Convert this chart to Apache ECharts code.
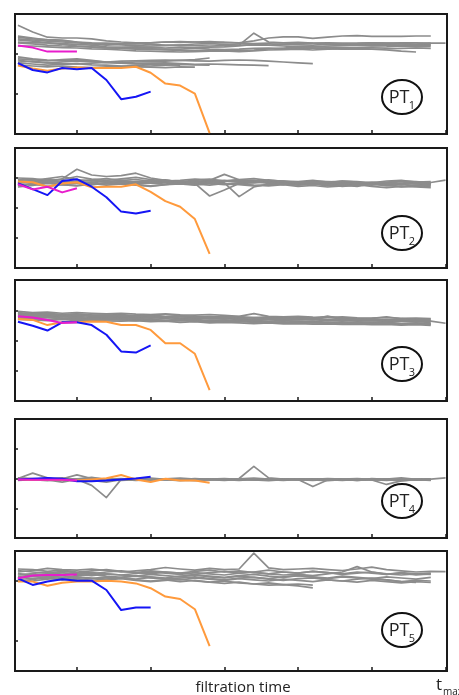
<!DOCTYPE html>
<html>
<head>
<meta charset="utf-8">
<script src="https://cdn.jsdelivr.net/npm/echarts@6/dist/echarts.min.js"></script>
<style>
  html, body { margin: 0; padding: 0; background: #fff; }
  #chart { width: 459px; height: 695px; }
</style>
</head>
<body>
<div id="chart"></div>
<script>
// time points (tick unit = 1, t_max = 6)
var times = [0.2,0.4,0.6,0.8,1.0,1.2,1.4,1.6,1.8,2.0,2.2,2.4,2.6,2.8,3.0,3.2,3.4,3.6,3.8,4.0,4.2,4.4,4.6,4.8,5.0,5.2,5.4,5.6,5.8,6.0];
var xTicks = [1, 2, 3, 4, 5, 6];
var panelNames = ["1", "2", "3", "4", "5"];
var yMax = [3, 4, 4, 4, 4];
var yTicks = [[1, 2], [1, 2, 3], [1, 2, 3], [1, 2, 3], [1, 3]];

// PT1
var gray1 = [
  [2.72,2.55,2.42,2.40,2.40,2.38,2.33,2.30,2.28,2.28,2.30,2.29,2.30,2.31,2.29,2.28,2.33,2.40,2.43,2.43,2.39,2.42,2.45,2.46,2.44,2.44,2.44,2.45,2.45],
  [2.42,2.38,2.36,2.35,2.30,2.25,2.22,2.25,2.26,2.24,2.22,2.22,2.25,2.26,2.24,2.22,2.52,2.30,2.28,2.26,2.27,2.28,2.27,2.27,2.28,2.27,2.28,2.28,2.27,2.27],
  [2.38,2.35,2.32,2.30,2.28,2.26,2.24,2.23,2.21,2.20,2.21,2.22,2.21,2.20,2.21,2.22,2.23,2.22,2.24,2.23,2.22,2.24,2.23,2.23,2.24,2.23,2.22,2.23,2.24],
  [2.30,2.28,2.28,2.26,2.24,2.22,2.18,2.17,2.18,2.17,2.15,2.17,2.16,2.17,2.18,2.20,2.24,2.22,2.20,2.18,2.18,2.17,2.16,2.16,2.17,2.18,2.20,2.18,2.19],
  [2.35,2.32,2.28,2.24,2.20,2.17,2.15,2.14,2.12,2.13,2.12,2.12,2.14,2.12,2.11,2.12,2.14,2.15,2.13,2.14,2.15,2.14,2.12,2.13,2.12,2.10,2.07,2.05],
  [2.28,2.25,2.22,2.20,2.19,2.18,2.16,2.15,2.14,2.12,2.10,2.09,2.08,2.09,2.10,2.09,2.10,2.13,2.15,2.17,2.18,2.20,2.21,2.22,2.21,2.22,2.22,2.23,2.22],
  [2.45,2.40,2.35,2.33,2.30,2.28,2.27,2.26,2.26,2.28,2.30,2.31,2.30,2.28,2.29,2.27,2.26,2.27,2.28,2.29,2.27,2.26,2.25,2.26,2.28,2.27,2.26,2.25,2.27],
  [2.20,2.20,2.18,2.16,2.15,2.13,2.12,2.10,2.08,2.07,2.06,2.05,2.06,2.07,2.08,2.06,2.08,2.10,2.11,2.12,2.10,2.12,2.13,2.14,2.12,2.13,2.14,2.15,2.14],
  [1.93,1.88,1.85,1.83,1.84,1.82,1.80,1.82,1.83,1.84,1.85,1.84,1.83,1.82,1.84,1.85,1.84,1.82,1.80,1.78,1.76],
  [1.85,1.80,1.78,1.80,1.82,1.81,1.79,1.78,1.80,1.81,1.82,1.84,1.86,1.90],
  [1.78,1.75,1.72,1.74,1.76,1.73,1.72,1.70,1.71,1.70,1.72,1.74,1.73,1.72],
  [1.72,1.70,1.68,1.70,1.67,1.66,1.68,1.69,1.68,1.67,1.66,1.68,1.67],
  [1.88,1.86,1.83,1.86,1.88,1.84,1.80,1.77,1.75,1.74,1.73,1.72],
  [1.80,1.82,1.78,1.76,1.75,1.77,1.79,1.78,1.76,1.77,1.78,1.76,1.74,1.75,1.74,1.73,1.72,1.71]
];
var blue1 = [1.77,1.60,1.54,1.65,1.62,1.65,1.35,0.87,0.93,1.06];
var orange1 = [1.71,1.64,1.58,1.64,1.66,1.65,1.65,1.65,1.68,1.53,1.26,1.21,1.01,0.02];
var magenta1 = [2.21,2.16,2.06,2.06,2.06];

// PT2
var gray2 = [
  [2.92,2.95,2.90,2.97,3.29,3.10,3.05,3.08,3.16,3.00,2.92,2.88,2.86,2.90,2.92,2.88,2.85,2.87,2.84,2.83,2.86,2.82,2.80,2.83,2.81,2.84,2.80,2.82,2.81],
  [2.85,2.88,2.96,2.86,2.90,2.94,2.98,2.92,2.95,2.90,2.86,2.84,2.88,2.92,3.12,2.94,2.88,2.86,2.90,2.85,2.82,2.85,2.88,2.80,2.78,2.84,2.82,2.86,2.85,2.93],
  [2.80,2.78,2.84,2.80,2.82,2.86,2.80,2.84,2.82,2.88,2.85,2.80,2.82,2.40,2.60,2.82,2.84,2.88,2.82,2.78,2.80,2.74,2.76,2.72,2.80,2.76,2.70,2.74,2.72],
  [2.88,2.82,2.86,2.90,2.85,2.78,2.84,2.88,2.86,2.83,2.80,2.86,2.82,2.88,2.84,2.38,2.70,2.80,2.84,2.82,2.78,2.82,2.76,2.80,2.84,2.78,2.82,2.80,2.78],
  [3.00,2.98,2.92,2.95,3.05,2.96,2.92,2.97,3.02,2.95,2.90,2.92,2.96,2.94,2.90,2.95,2.98,2.92,2.90,2.88,2.92,2.86,2.90,2.88,2.84,2.90,2.92,2.86,2.88],
  [2.75,2.80,2.72,2.78,2.75,2.82,2.76,2.80,2.78,2.74,2.78,2.80,2.76,2.82,2.78,2.80,2.76,2.74,2.78,2.72,2.75,2.70,2.74,2.78,2.72,2.68,2.72,2.70,2.68],
  [2.90,2.86,2.92,2.84,2.88,2.92,2.88,2.84,2.88,2.92,2.94,2.86,2.82,2.86,2.90,2.94,2.92,2.86,2.88,2.84,2.90,2.88,2.86,2.82,2.86,2.84,2.88,2.80,2.84],
  [2.82,2.90,2.86,2.80,2.84,2.78,2.82,2.86,2.80,2.84,2.88,2.82,2.78,2.84,2.80,2.84,2.88,2.82,2.78,2.82,2.86,2.80,2.84,2.80,2.76,2.82,2.78,2.84,2.80],
  [2.95,2.92,2.98,3.05,2.95,2.90,2.88,2.92,2.86,2.90,2.92,2.88,2.92,2.96,2.90,2.86,2.90,2.94,2.88,2.84,2.88,2.84,2.90,2.86,2.82,2.86,2.90,2.88,2.84],
  [2.70,2.75,2.82,2.78,2.74,2.80,2.84,2.80,2.76,2.72,2.78,2.84,2.80,2.76,2.82,2.78,2.74,2.78,2.82,2.76,2.80,2.78,2.72,2.76,2.80,2.74,2.78,2.74,2.76]
];
var blue2 = [2.82,2.63,2.43,2.90,2.96,2.71,2.36,1.88,1.82,1.91];
var orange2 = [2.88,2.86,2.71,2.82,2.86,2.69,2.71,2.71,2.79,2.54,2.23,2.04,1.63,0.47];
var magenta2 = [2.79,2.62,2.71,2.52,2.66];

// PT3
var gray3 = [
  [2.96,2.92,2.94,2.90,2.92,2.90,2.88,2.90,2.87,2.86,2.88,2.85,2.84,2.86,2.83,2.80,2.89,2.80,2.78,2.80,2.77,2.76,2.78,2.75,2.74,2.76,2.73,2.74,2.72],
  [2.88,2.86,2.84,2.86,2.82,2.84,2.82,2.80,2.82,2.79,2.78,2.80,2.76,2.78,2.75,2.76,2.74,2.76,2.72,2.74,2.71,2.80,2.70,2.72,2.68,2.70,2.68,2.66,2.64,2.57],
  [2.82,2.80,2.82,2.78,2.80,2.76,2.78,2.75,2.76,2.74,2.76,2.72,2.74,2.71,2.72,2.70,2.68,2.70,2.67,2.68,2.70,2.66,2.68,2.64,2.66,2.63,2.65,2.62,2.60],
  [2.76,2.74,2.76,2.72,2.74,2.70,2.72,2.70,2.68,2.70,2.66,2.68,2.65,2.66,2.64,2.62,2.64,2.60,2.62,2.59,2.60,2.58,2.60,2.57,2.56,2.58,2.55,2.56,2.54],
  [2.92,2.88,2.90,2.86,2.88,2.85,2.84,2.86,2.82,2.84,2.80,2.82,2.79,2.80,2.78,2.79,2.76,2.78,2.75,2.76,2.74,2.80,2.74,2.72,2.73,2.78,2.72,2.69,2.70],
  [2.70,2.68,2.66,2.70,2.66,2.68,2.65,2.64,2.66,2.62,2.64,2.60,2.62,2.58,2.60,2.58,2.56,2.58,2.55,2.56,2.54,2.55,2.53,2.54,2.52,2.53,2.51,2.52,2.50],
  [2.85,2.84,2.80,2.82,2.84,2.80,2.78,2.80,2.78,2.76,2.78,2.74,2.76,2.72,2.74,2.72,2.70,2.72,2.70,2.68,2.70,2.66,2.68,2.65,2.66,2.64,2.66,2.63,2.64],
  [2.80,2.76,2.78,2.74,2.76,2.73,2.74,2.72,2.73,2.70,2.72,2.68,2.70,2.66,2.68,2.65,2.66,2.64,2.66,2.62,2.64,2.60,2.62,2.60,2.58,2.60,2.57,2.58,2.56],
  [2.90,2.86,2.88,2.84,2.86,2.82,2.84,2.82,2.80,2.82,2.78,2.80,2.77,2.78,2.76,2.74,2.76,2.73,2.74,2.72,2.74,2.70,2.72,2.68,2.70,2.67,2.68,2.66,2.66],
  [2.74,2.72,2.70,2.72,2.69,2.70,2.68,2.69,2.66,2.68,2.65,2.66,2.63,2.64,2.62,2.63,2.60,2.62,2.59,2.60,2.58,2.59,2.56,2.58,2.55,2.56,2.54,2.55,2.53]
];
var blue3 = [2.62,2.49,2.33,2.60,2.60,2.51,2.19,1.64,1.60,1.84];
var orange3 = [2.71,2.68,2.51,2.60,2.60,2.63,2.62,2.51,2.51,2.35,1.91,1.91,1.56,0.36];
var magenta3 = [2.80,2.76,2.68,2.58,2.60];

// PT4
var gray4 = [
  [2.00,2.18,2.02,1.95,1.98,2.04,1.96,1.98,2.00,1.97,1.99,2.01,1.98,1.96,1.99,2.00,2.41,2.02,1.98,1.97,1.99,1.96,1.98,2.00,1.97,1.99,1.98,1.96,1.97],
  [1.96,1.98,1.95,1.88,1.97,1.77,1.36,1.97,1.99,1.96,1.98,1.95,1.97,1.99,1.96,1.94,1.97,1.95,1.98,1.96,1.94,1.97,1.95,1.96,1.98,1.95,1.97,1.96,1.98,2.02],
  [1.98,1.96,1.99,2.02,1.97,1.95,1.98,2.00,1.96,1.98,1.95,1.97,1.99,1.96,1.98,1.95,1.97,1.96,1.99,1.97,1.73,1.95,1.97,1.99,1.96,1.94,1.97,1.95,1.96],
  [2.02,2.00,1.97,1.99,2.12,2.00,1.96,1.98,1.95,1.97,1.99,1.96,2.00,1.97,1.95,1.98,1.96,1.99,1.97,1.95,1.98,1.96,1.94,1.97,1.95,1.80,1.92,1.96,1.94],
  [1.94,1.96,1.93,1.97,1.95,1.92,1.95,1.97,1.94,1.96,1.98,1.95,1.93,1.96,1.94,1.97,1.95,1.93,1.96,1.98,1.95,1.93,1.96,1.94,1.97,1.95,1.93,1.96,1.95],
  [1.99,1.97,2.00,1.96,1.98,1.94,1.88,1.96,1.98,1.95,1.97,1.99,1.96,1.98,2.00,1.97,1.99,1.96,1.94,1.97,1.99,1.96,1.98,1.95,2.00,1.97,1.95,1.98,1.96],
  [1.95,1.99,1.96,1.98,1.95,1.97,1.99,1.94,1.96,1.98,1.96,1.93,1.95,1.98,1.96,1.99,1.96,1.98,1.95,1.97,1.96,1.99,1.97,1.94,1.96,1.98,2.02,1.97,1.99],
  [2.01,1.98,2.00,1.97,1.99,2.01,1.98,1.96,1.99,2.01,1.97,1.99,1.96,1.98,1.97,1.99,2.01,1.98,1.96,1.99,1.97,2.00,1.98,1.96,1.99,1.97,1.95,1.98,1.97]
];
var blue4 = [1.97,1.99,2.02,1.99,1.91,1.91,1.93,1.97,2.00,2.06];
var orange4 = [1.96,1.96,1.96,1.96,1.93,1.97,2.01,2.12,1.97,1.88,1.99,1.93,1.93,1.86];
var magenta4 = [1.97,1.96,1.96,1.96,1.93];

// PT5
var gray5 = [
  [3.30,3.35,3.42,3.38,3.36,3.40,3.35,3.30,3.34,3.38,3.45,3.40,3.36,3.42,3.38,3.40,3.93,3.44,3.38,3.40,3.42,3.38,3.35,3.40,3.46,3.38,3.34,3.30,3.32,3.31],
  [3.20,3.25,3.30,3.22,3.26,3.28,3.24,3.20,3.25,3.30,3.26,3.22,3.28,3.24,3.20,3.26,3.30,3.24,3.20,3.22,3.18,3.24,3.30,3.48,3.30,3.22,3.26,3.20,3.24],
  [3.10,3.15,3.12,3.08,3.14,3.10,3.06,3.12,3.16,3.10,3.06,3.10,3.14,3.08,3.04,3.10,3.12,3.06,3.02,3.08,3.10,3.04,3.00,3.06,3.10,3.04,2.98,3.02,3.00],
  [3.05,3.00,3.06,3.10,3.04,3.00,3.04,3.08,3.02,2.98,3.02,3.06,3.00,2.96,3.00,2.94,2.90,2.86,2.88,2.84,2.77],
  [3.35,3.30,3.26,3.32,3.28,3.24,3.30,3.34,3.28,3.24,3.30,3.26,3.22,3.28,3.32,3.26,3.30,3.36,3.30,3.26,3.32,3.28,3.24,3.30,3.26,3.22,3.28,3.24,3.26],
  [3.15,3.20,3.16,3.12,3.18,3.22,3.16,3.12,3.18,3.14,3.10,3.16,3.20,3.14,3.10,3.16,3.12,3.08,3.14,3.18,3.12,3.08,3.14,3.10,3.06,3.04,2.98,2.95],
  [3.00,3.05,3.10,3.04,3.08,3.02,3.06,3.10,3.04,3.00,3.04,2.98,3.02,2.96,2.92,2.96,2.90,2.94,2.88,2.90,2.86],
  [3.25,3.20,3.24,3.28,3.22,3.18,3.24,3.20,3.16,3.22,3.18,3.14,3.20,3.16,3.12,3.18,3.22,3.16,3.12,3.18,3.14,3.10,3.16,3.12,3.08,3.14,3.10,3.06,3.12],
  [3.40,3.38,3.32,3.36,3.30,3.34,3.38,3.32,3.28,3.34,3.30,3.26,3.32,3.36,3.30,3.34,3.28,3.24,3.30,3.26,3.32,3.28,3.22,3.26,3.30,3.24,3.20,3.24,3.22],
  [3.12,3.08,3.14,3.18,3.12,3.08,3.14,3.10,3.06,3.12,3.08,3.04,3.10,3.06,3.02,3.08,3.04,3.00,3.06,3.02,2.98,3.04,3.00,2.96,3.02,2.98,2.94,2.98,2.95]
];
var blue5 = [3.09,2.87,2.98,3.06,3.01,3.01,2.70,2.03,2.12,2.12];
var orange5 = [2.98,2.98,2.84,2.94,2.98,2.98,3.01,2.98,2.92,2.76,2.48,2.40,2.06,0.83];
var magenta5 = [3.09,3.18,3.20,3.20,3.22];

var grays = [gray1, gray2, gray3, gray4, gray5];
var blues = [blue1, blue2, blue3, blue4, blue5];
var oranges = [orange1, orange2, orange3, orange4, orange5];
var magentas = [magenta1, magenta2, magenta3, magenta4, magenta5];

var panelTop = [14, 148, 280, 419, 551];
var panelH = [120, 120, 121, 119, 120];
var circleY = [97, 233, 364, 501, 630];

var myChart = echarts.init(document.getElementById("chart"), null, { renderer: "canvas" });

function toXY(vals) {
    var out = [];
    for (var i = 0; i < vals.length; i++) {
        out.push([times[i], vals[i]]);
    }
    return out;
}

function mkLine(p, vals, color, width, z) {
    return {
        type: "line",
        xAxisIndex: p,
        yAxisIndex: p,
        data: toXY(vals),
        symbol: "none",
        silent: true,
        z: z,
        lineStyle: { color: color, width: width, join: "round" }
    };
}

var grid = [], xAxis = [], yAxis = [], series = [], graphic = [];
for (var p = 0; p < 5; p++) {
    grid.push({
        left: 15, right: 12, top: panelTop[p], height: panelH[p],
        show: true, borderColor: "#1a1a1a", borderWidth: 2, backgroundColor: "#fff"
    });
    xAxis.push({
        type: "value", gridIndex: p, min: 0.16, max: 6.02,
        axisLine: { show: false },
        axisTick: { show: true, inside: true, length: 4, customValues: xTicks, lineStyle: { color: "#1a1a1a", width: 1.5 } },
        axisLabel: { show: false, customValues: xTicks },
        splitLine: { show: false }
    });
    yAxis.push({
        type: "value", gridIndex: p, min: 0, max: yMax[p],
        axisLine: { show: false },
        axisTick: { show: true, inside: true, length: 3, customValues: yTicks[p], lineStyle: { color: "#1a1a1a", width: 1.5 } },
        axisLabel: { show: false, customValues: yTicks[p] },
        splitLine: { show: false }
    });
    // grey runs first, coloured runs on top
    for (var g = 0; g < grays[p].length; g++) {
        series.push(mkLine(p, grays[p][g], "#8c8c8c", 1.7, 2));
    }
    series.push(mkLine(p, oranges[p], "#ff9a3c", 2, 3));
    series.push(mkLine(p, blues[p], "#1515f5", 2, 4));
    series.push(mkLine(p, magentas[p], "#e81ccc", 2, 5));

    graphic.push({
        type: "ellipse", z: 100,
        shape: { cx: 402, cy: circleY[p], rx: 20, ry: 17 },
        style: { fill: "#fff", stroke: "#111", lineWidth: 2 }
    });
    graphic.push({
        type: "text", z: 101, x: 399, y: circleY[p] + 1,
        style: { text: "PT", fill: "#222", font: "18px 'Open Sans'", textAlign: "center", textVerticalAlign: "middle" }
    });
    graphic.push({
        type: "text", z: 101, x: 412, y: circleY[p] + 9,
        style: { text: panelNames[p], fill: "#222", font: "11px 'Open Sans'", textAlign: "center", textVerticalAlign: "middle" }
    });
}

graphic.push({
    type: "text", x: 243, y: 688,
    style: { text: "filtration time", fill: "#222", font: "15px 'Open Sans'", textAlign: "center", textVerticalAlign: "middle" }
});
graphic.push({
    type: "text", x: 439, y: 685,
    style: { text: "t", fill: "#222", font: "17px 'Open Sans'", textAlign: "center", textVerticalAlign: "middle" }
});
graphic.push({
    type: "text", x: 443, y: 692,
    style: { text: "max", fill: "#222", font: "10px 'Open Sans'", textAlign: "left", textVerticalAlign: "middle" }
});

var option = {
    animation: false,
    backgroundColor: "#fff",
    grid: grid,
    xAxis: xAxis,
    yAxis: yAxis,
    series: series,
    graphic: graphic
};
myChart.setOption(option);
</script>
</body>
</html>
